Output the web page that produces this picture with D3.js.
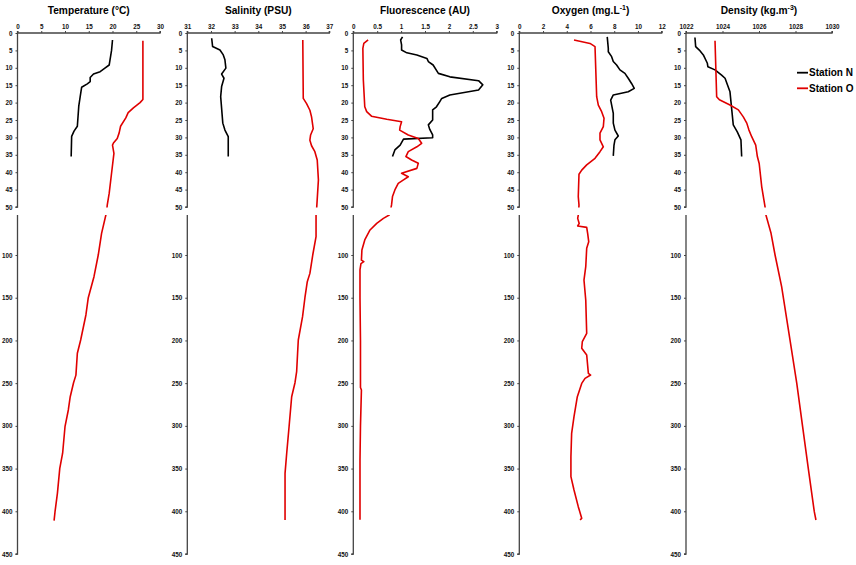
<!DOCTYPE html>
<html><head><meta charset="utf-8">
<script src="https://cdn.jsdelivr.net/npm/d3@7"></script>
<style>
html,body{margin:0;padding:0;background:#fff;}
svg{display:block;font-family:"Liberation Sans",Arial,sans-serif;}
</style></head>
<body>
<svg id="chart" width="856" height="565"></svg>
<script>
// ---- Data: [depth (m), value] ----
const temperatureN = [[2,20.0],[5,19.8],[9.2,19.3],[10.1,18.4],[11.1,17.4],[11.8,16.0],[12.8,15.3],[14,15.3],[14.6,14.7],[15.6,13.5],[18.3,13.2],[21,12.9],[26.8,12.6],[28.2,11.9],[29.7,11.4],[35.5,11.3]];
const temperatureO = [[2.2,26.4],[19.1,26.4],[20,25.8],[21.5,24.4],[22.9,23.3],[24.4,22.8],[26.8,21.7],[28.7,21.4],[30.3,21.0],[31.6,20.2],[32.2,20.0],[34.6,20.3],[40.3,19.8],[46.1,19.3],[49.4,18.9],[53.2,18.6],[74.6,17.7],[100,17.0],[125.4,16.1],[150,14.9],[170.2,14.4],[199.5,13.3],[215,12.6],[240.6,12.3],[249.5,11.8],[265.9,11.1],[281.4,10.7],[301,10.0],[332,9.5],[349.7,8.9],[379,8.4],[400.5,7.9],[411,7.7]];

const salinityN = [[1.5,32.03],[3.9,32.07],[4.9,32.38],[6.3,32.52],[7.7,32.59],[10.1,32.63],[11.8,32.45],[13,32.55],[15.4,32.45],[18.3,32.41],[25.9,32.5],[27.9,32.59],[29.8,32.73],[35.5,32.73]];
const salinityO = [[2,35.88],[18.8,35.9],[20.3,36.04],[22.2,36.18],[24.1,36.25],[27.5,36.32],[29.3,36.21],[30.8,36.18],[32.4,36.25],[34.1,36.39],[36.5,36.49],[42.2,36.54],[49.9,36.47],[53.2,36.44],[78.6,36.44],[100,36.30],[121.5,36.18],[131.2,36.07],[150,35.97],[172.2,35.87],[199.5,35.69],[215,35.66],[236.6,35.62],[249.5,35.55],[265.9,35.41],[301,35.30],[332,35.20],[355.6,35.13],[388.8,35.13],[410.2,35.13]];

const fluorescenceN = [[1.1,1.03],[2,0.99],[3.4,1.01],[4.9,1.01],[5.7,1.12],[6.3,1.33],[7.3,1.54],[8.2,1.57],[9.2,1.67],[11.6,1.78],[12.6,2.02],[13.7,2.62],[14.9,2.71],[16.4,2.62],[17.8,2.02],[18.8,1.85],[19.7,1.81],[21.2,1.74],[22.1,1.66],[25,1.66],[26.4,1.57],[27.7,1.60],[29.3,1.66],[30.1,1.66],[30.5,1.05],[32.2,0.98],[33.6,0.87],[35.5,0.82]];
const fluorescenceO = [[2,0.31],[3,0.22],[4.4,0.20],[13.5,0.21],[21.2,0.24],[22.6,0.28],[23.9,0.38],[24.8,0.70],[25.5,1.01],[26.9,0.98],[27.9,0.97],[29.3,1.15],[30.3,1.36],[31.7,1.43],[32.7,1.33],[34.1,1.15],[35.5,1.10],[36.5,1.22],[37.4,1.36],[38.9,1.33],[40.3,1.01],[41.3,1.15],[42.2,1.05],[43.2,0.94],[45.1,0.87],[47,0.82],[49.4,0.80],[53.2,0.75],[57.1,0.63],[63,0.49],[70.7,0.35],[82.4,0.24],[94.1,0.18],[106,0.17],[107.8,0.22],[110,0.16],[117.5,0.14],[150,0.14],[200,0.15],[255,0.15],[258,0.17],[300,0.15],[340,0.14],[410,0.14]];

const oxygenN = [[1.1,7.41],[4.4,7.5],[5.4,7.5],[6.8,7.78],[8.2,7.92],[9.2,8.2],[10.6,8.48],[11.6,8.9],[13,9.18],[14.5,9.46],[15.9,9.69],[16.9,9.18],[17.8,7.92],[19.3,7.7],[23.1,7.92],[25.9,7.92],[27.9,8.06],[29.6,8.34],[30.7,8.06],[32.2,7.98],[35.3,7.92]];
const oxygenO = [[2,4.61],[3,5.96],[3.9,6.38],[18.3,6.52],[20.7,6.66],[22.6,6.94],[24.5,7.14],[26.9,7.08],[28.8,6.80],[30.7,6.80],[32.7,7.08],[34.1,6.80],[36,6.38],[37.9,5.68],[39.4,5.26],[40.6,5.03],[47,4.97],[49.4,5.03],[53.2,4.97],[57.1,4.92],[63,5.05],[66,4.92],[67.6,5.68],[74.6,5.76],[84.4,5.85],[92.1,5.68],[113.7,5.6],[129.3,5.45],[152.7,5.6],[191.7,5.68],[201.5,5.31],[209.2,5.26],[217.1,5.68],[238.5,5.82],[240.5,6.01],[244.4,5.54],[250.3,5.26],[265.9,4.89],[289.3,4.61],[308.8,4.41],[336.1,4.35],[359.5,4.35],[375.1,4.61],[394.6,4.97],[408.2,5.26],[410,5.12]];

const densityN = [[1.3,1022.49],[3.9,1022.53],[4.9,1022.73],[6.3,1022.95],[8.7,1023.17],[9.7,1023.2],[10.6,1023.59],[12.1,1023.95],[13,1024.14],[15.6,1024.32],[16.9,1024.41],[26.4,1024.59],[28.4,1024.81],[30.7,1025.01],[35.5,1025.05]];
const densityO = [[2.2,1023.59],[18.3,1023.68],[19.2,1023.83],[20.7,1024.41],[22.1,1024.87],[24.1,1025.14],[25.9,1025.33],[27.9,1025.45],[29.8,1025.6],[32.2,1025.82],[35.5,1025.91],[37.5,1026.01],[44.2,1026.15],[49.9,1026.33],[53.2,1026.38],[74.6,1026.66],[100,1026.88],[137,1027.24],[199.5,1027.70],[250.3,1028.07],[301,1028.39],[349.7,1028.70],[400.5,1029.03],[410.2,1029.12]];

const panelTitles = ["Temperature (°C)","Salinity (PSU)","Fluorescence (AU)","Oxygen (mg.L","Density (kg.m"];
const titleSups = ["","","","-1","-3"];
const titleTails = ["","","",")",")"];
const tempTicks = [0,5,10,15,20,25,30];
const salTicks = [31,32,33,34,35,36,37];
const fluoTicks = [0,0.5,1,1.5,2,2.5,3];
const oxyTicks = [0,2,4,6,8,10,12];
const densTicks = [1022,1024,1026,1028,1030];
const depthTicksTop = [0,5,10,15,20,25,30,35,40,45,50];
const depthTicksBottom = [100,150,200,250,300,350,400,450];
const seriesNames = ["Station N","Station O"];
const seriesColors = ["#000000","#e00000"];

// ---- Layout ----
const panels = [
  {ticks: tempTicks, x0: 17.5, x1: 160, data: [temperatureN, temperatureO]},
  {ticks: salTicks, x0: 187.3, x1: 329.3, data: [salinityN, salinityO]},
  {ticks: fluoTicks, x0: 353.3, x1: 496.7, data: [fluorescenceN, fluorescenceO]},
  {ticks: oxyTicks, x0: 519.3, x1: 661.7, data: [oxygenN, oxygenO]},
  {ticks: densTicks, x0: 686, x1: 832, data: [densityN, densityO]}
];
const yTop = d3.scaleLinear().domain([0,50]).range([33,207]);
const yBot = d3.scaleLinear().domain([50,450]).range([212.3,554]);
const botStart = 215;

const svg = d3.select("#chart");
const defs = svg.append("defs");
defs.append("clipPath").attr("id","clipTop").append("rect").attr("x",0).attr("y",30).attr("width",856).attr("height",207.5-30);
defs.append("clipPath").attr("id","clipBot").append("rect").attr("x",0).attr("y",botStart).attr("width",856).attr("height",565-botStart);

const axisColor = "#444";
panels.forEach((p,i) => {
  const x = d3.scaleLinear().domain([p.ticks[0], p.ticks[p.ticks.length-1]]).range([p.x0, p.x1]);
  const g = svg.append("g");

  // title
  const t = g.append("text").attr("x",(p.x0+p.x1)/2).attr("y",14).attr("text-anchor","middle")
    .attr("font-size",10.2).attr("font-weight","bold").attr("fill","#000");
  t.append("tspan").text(panelTitles[i]);
  if (titleSups[i]) {
    t.append("tspan").attr("font-size",7).attr("dy",-4).text(titleSups[i]);
    t.append("tspan").attr("dy",4).text(titleTails[i]);
  }

  const xa = g.append("g").attr("transform",`translate(0,${yTop(0)})`)
    .call(d3.axisTop(x).tickValues(p.ticks).tickSize(2).tickPadding(2).tickFormat(d3.format("")));
  const ya = g.append("g").attr("transform",`translate(${p.x0},0)`)
    .call(d3.axisLeft(yTop).tickValues(depthTicksTop).tickSize(2).tickPadding(3).tickFormat(d3.format("")));
  const yb = g.append("g").attr("transform",`translate(${p.x0},0)`)
    .call(d3.axisLeft(yBot).tickValues(depthTicksBottom).tickSize(2).tickPadding(3).tickFormat(d3.format("")));
  yb.select(".domain").attr("d",`M-2,${yBot(450)}H0V${botStart}`);
  ya.select(".domain").attr("d",`M-2,${yTop(50)}H0V${yTop(0)}`);
  xa.select(".domain").attr("d",`M${p.x0},-2V0H${p.x1}V-2`);
  [xa,ya,yb].forEach(a=>{
    a.selectAll(".domain").attr("stroke",axisColor).attr("stroke-width",1.3).attr("fill","none");
    a.selectAll(".tick line").attr("stroke",axisColor).attr("stroke-width",1);
    a.selectAll(".tick text").attr("font-size",6.3).attr("fill","#111").attr("font-weight","bold")
      .attr("font-family","'Liberation Sans Narrow','Liberation Sans',Arial,sans-serif");
  });

  p.data.forEach((s,k) => {
    const lineTop = d3.line().x(d=>x(d[1])).y(d=>yTop(d[0]));
    const lineBot = d3.line().x(d=>x(d[1])).y(d=>yBot(d[0]));
    g.append("path").attr("d",lineTop(s.filter((d,j)=>d[0]<=52 || (j>0 && s[j-1][0]<=52))))
      .attr("clip-path","url(#clipTop)").attr("fill","none").attr("stroke",seriesColors[k]).attr("stroke-width",1.6).attr("stroke-linejoin","round");
    if (s[s.length-1][0] > 50) {
      g.append("path").attr("d",lineBot(s.filter((d,j)=>d[0]>=50 || (j<s.length-1 && s[j+1][0]>=50))))
        .attr("clip-path","url(#clipBot)").attr("fill","none").attr("stroke",seriesColors[k]).attr("stroke-width",1.6).attr("stroke-linejoin","round");
    }
  });
});

// legend
const leg = svg.append("g");
seriesNames.forEach((n,k)=>{
  const yy = 72.7 + k*15.6;
  leg.append("line").attr("x1",797).attr("x2",808).attr("y1",yy).attr("y2",yy).attr("stroke",seriesColors[k]).attr("stroke-width",1.8);
  leg.append("text").attr("x",809).attr("y",yy+3.7).attr("font-size",10).attr("font-weight","bold").attr("fill","#000").text(n);
});
</script>
</body></html>
